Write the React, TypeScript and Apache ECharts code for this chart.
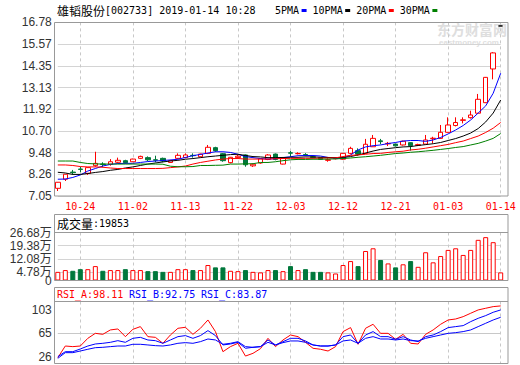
import React, { useEffect, useRef } from 'react';
import * as echarts from 'echarts';

const stockName = '雄韬股份';
const stockHeader = '[002733] 2019-01-14 10:28';
const maNames = ['5PMA', '10PMA', '20PMA', '30PMA'];
const maColors = ['#0000ff', '#000000', '#ff0000', '#008000'];
const volLabel = '成交量';
const volHeaderValue = 19853;
const rsiNames = ['RSI_A', 'RSI_B', 'RSI_C'];
const rsiHeaderValues = [98.11, 92.75, 83.87];

const dates = [
  '10-19', '10-22', '10-23', '10-24', '10-25', '10-26', '10-29', '10-30', '10-31', '11-01',
  '11-02', '11-05', '11-06', '11-07', '11-08', '11-09', '11-12', '11-13', '11-14', '11-15',
  '11-16', '11-19', '11-20', '11-21', '11-22', '11-23', '11-26', '11-27', '11-28', '11-29',
  '11-30', '12-03', '12-04', '12-05', '12-06', '12-07', '12-10', '12-11', '12-12', '12-13',
  '12-14', '12-17', '12-18', '12-19', '12-20', '12-21', '12-24', '12-25', '12-26', '12-27',
  '12-28', '01-02', '01-03', '01-04', '01-07', '01-08', '01-09', '01-10', '01-11', '01-14',
];
const labelDates = ['10-24', '11-02', '11-13', '11-22', '12-03', '12-12', '12-21', '01-03', '01-14'];

const opens = [
  7.48, 7.99, 8.39, 8.56, 8.32, 8.75, 8.84, 8.83, 8.94, 9.03,
  8.97, 9.16, 9.20, 9.08, 9.16, 8.93, 9.16, 9.20, 9.33, 9.25,
  9.44, 9.76, 9.42, 8.92, 9.20, 9.35, 8.74, 8.90, 9.10, 9.40,
  8.84, 9.47, 9.42, 9.37, 9.25, 9.20, 9.05, 9.14, 9.11, 9.44,
  9.59, 9.44, 9.81, 10.14, 9.97, 9.96, 9.91, 10.04, 9.89, 9.96,
  10.26, 10.28, 10.62, 11.00, 11.29, 11.44, 11.69, 12.28, 14.17, 16.58,
];
const closes = [
  7.82, 8.27, 8.36, 8.54, 8.64, 8.88, 8.82, 8.97, 9.05, 8.92,
  9.12, 9.27, 9.08, 9.06, 9.01, 9.04, 9.33, 9.35, 9.31, 9.40,
  9.78, 9.59, 9.03, 9.22, 9.28, 8.80, 8.83, 9.14, 9.35, 9.10,
  9.16, 9.45, 9.43, 9.34, 9.21, 9.11, 9.08, 9.17, 9.44, 9.72,
  9.39, 9.95, 10.28, 10.10, 10.00, 9.86, 10.12, 9.87, 9.93, 10.19,
  10.29, 10.62, 11.03, 11.17, 11.32, 11.59, 12.47, 13.70, 15.07, 16.58,
];
const lows = [
  7.33, 7.89, 8.24, 8.38, 8.23, 8.69, 8.66, 8.75, 8.88, 8.86,
  8.95, 9.12, 9.01, 8.94, 8.94, 8.90, 9.12, 9.16, 9.20, 9.22,
  9.40, 9.53, 8.97, 8.88, 9.15, 8.69, 8.68, 8.86, 9.06, 9.05,
  8.82, 9.24, 9.38, 9.28, 9.18, 9.08, 8.97, 9.10, 9.08, 9.40,
  9.31, 9.40, 9.80, 9.95, 9.85, 9.82, 9.88, 9.59, 9.85, 9.94,
  10.00, 10.25, 10.60, 10.95, 11.12, 11.39, 11.65, 12.26, 13.59, 16.58,
];
const highs = [
  7.83, 8.28, 8.51, 8.69, 8.65, 9.53, 8.94, 9.12, 9.20, 9.08,
  9.14, 9.31, 9.27, 9.31, 9.20, 9.08, 9.44, 9.44, 9.44, 9.42,
  9.91, 9.81, 9.46, 9.24, 9.35, 9.38, 8.87, 9.16, 9.40, 9.43,
  9.18, 9.57, 9.50, 9.45, 9.27, 9.23, 9.16, 9.20, 9.46, 9.81,
  9.72, 10.25, 10.47, 10.25, 10.08, 9.98, 10.15, 10.06, 9.98, 10.47,
  10.37, 11.03, 11.46, 11.46, 11.46, 11.83, 12.77, 13.72, 15.11, 16.58,
];

const ma5 = [
  7.99, 8.00, 8.09, 8.23, 8.45, 8.59, 8.73, 8.82, 8.87, 8.88,
  8.88, 8.93, 8.98, 9.01, 9.04, 9.07, 9.11, 9.21, 9.31, 9.38,
  9.46, 9.53, 9.53, 9.49, 9.39, 9.26, 9.20, 9.15, 9.12, 9.14,
  9.20, 9.25, 9.31, 9.32, 9.32, 9.29, 9.21, 9.16, 9.16, 9.35,
  9.63, 9.80, 9.87, 9.91, 9.99, 10.05, 10.13, 10.16, 10.16, 10.11,
  10.19, 10.33, 10.53, 10.75, 11.00, 11.31, 11.70, 12.10, 12.81, 13.93,
];
const ma10 = [
  8.38, 8.34, 8.26, 8.26, 8.31, 8.37, 8.42, 8.49, 8.54, 8.62,
  8.68, 8.76, 8.84, 8.90, 8.96, 9.01, 9.05, 9.11, 9.15, 9.20,
  9.25, 9.29, 9.33, 9.37, 9.39, 9.32, 9.26, 9.24, 9.20, 9.20,
  9.21, 9.22, 9.22, 9.24, 9.24, 9.22, 9.21, 9.20, 9.21, 9.26,
  9.35, 9.46, 9.57, 9.66, 9.71, 9.76, 9.80, 9.82, 9.88, 9.93,
  9.98, 10.05, 10.16, 10.27, 10.41, 10.58, 10.83, 11.20, 11.70, 12.43,
];
const ma20 = [
  8.79, 8.79, 8.76, 8.70, 8.68, 8.68, 8.66, 8.62, 8.59, 8.59,
  8.59, 8.59, 8.59, 8.59, 8.60, 8.64, 8.68, 8.73, 8.84, 8.93,
  9.00, 9.07, 9.12, 9.15, 9.15, 9.12, 9.12, 9.12, 9.12, 9.14,
  9.15, 9.16, 9.16, 9.16, 9.16, 9.17, 9.18, 9.19, 9.26, 9.33,
  9.35, 9.39, 9.43, 9.44, 9.49, 9.53, 9.56, 9.63, 9.67, 9.73,
  9.80, 9.87, 9.94, 10.04, 10.13, 10.27, 10.41, 10.61, 10.85, 11.17,
];
const ma30 = [
  9.01, 9.01, 9.01, 8.93, 8.87, 8.85, 8.84, 8.84, 8.84, 8.84,
  8.84, 8.84, 8.84, 8.84, 8.83, 8.72, 8.69, 8.69, 8.70, 8.76,
  8.76, 8.77, 8.78, 8.84, 8.84, 8.85, 8.86, 8.93, 8.93, 8.97,
  9.03, 9.08, 9.10, 9.10, 9.11, 9.11, 9.12, 9.13, 9.15, 9.18,
  9.22, 9.25, 9.29, 9.33, 9.38, 9.43, 9.46, 9.50, 9.53, 9.57,
  9.61, 9.66, 9.71, 9.77, 9.82, 9.91, 10.00, 10.13, 10.28, 10.55,
];

// volume in 万 (10k shares)
const volumes = [
  4.8, 5.8, 5.4, 6.3, 6.3, 8.0, 5.4, 5.8, 5.8, 6.3,
  5.8, 5.8, 5.2, 5.2, 4.8, 4.8, 6.3, 6.3, 5.8, 5.8,
  8.6, 7.3, 7.3, 5.4, 5.2, 5.8, 4.8, 4.5, 5.8, 5.8,
  5.2, 8.0, 5.8, 6.3, 4.8, 4.8, 4.5, 3.9, 8.6, 10.8,
  8.0, 16.4, 17.9, 11.4, 9.5, 7.3, 9.0, 10.8, 7.6, 15.7,
  10.1, 13.6, 17.0, 17.9, 14.2, 17.0, 22.6, 24.1, 21.3, 4.5,
];

const rsiA = [
  25.4, 44.3, 43.3, 44.3, 56.8, 64.9, 63.3, 70.4, 72.0, 59.5,
  71.4, 75.8, 59.5, 58.4, 48.7, 62.2, 73.1, 74.7, 63.3, 73.1,
  86.6, 67.7, 35.1, 43.3, 48.7, 28.0, 32.4, 40.0, 56.8, 43.3,
  54.1, 62.2, 59.5, 50.3, 40.6, 39.0, 36.2, 43.3, 67.7, 74.2,
  47.1, 73.1, 79.6, 64.9, 64.9, 55.2, 63.3, 48.7, 47.6, 63.3,
  70.4, 79.6, 86.6, 88.2, 92.0, 97.5, 102.9, 105.6, 108.3, 109.4,
];
const rsiB = [
  27.0, 35.1, 35.1, 39.5, 44.3, 47.6, 48.7, 50.3, 53.0, 50.3,
  56.8, 58.4, 54.1, 53.0, 48.7, 54.1, 59.5, 61.2, 56.8, 61.2,
  69.3, 61.2, 46.0, 47.6, 50.3, 40.6, 42.2, 43.3, 54.1, 46.0,
  51.4, 56.8, 56.8, 52.5, 46.0, 44.3, 44.3, 46.0, 59.5, 62.2,
  48.7, 62.2, 67.7, 59.5, 59.5, 55.2, 59.5, 54.1, 51.4, 59.5,
  62.2, 67.7, 74.2, 75.8, 77.4, 83.9, 89.3, 93.7, 99.1, 102.9,
];
const rsiC = [
  24.3, 33.5, 33.5, 36.2, 39.0, 41.6, 42.2, 43.3, 44.3, 44.3,
  47.1, 47.1, 46.0, 44.9, 44.3, 46.0, 48.7, 49.8, 48.7, 51.4,
  55.7, 54.1, 47.1, 48.7, 51.4, 43.3, 42.2, 43.3, 50.3, 46.0,
  49.8, 52.5, 52.5, 50.3, 46.0, 44.3, 44.3, 46.0, 52.5, 54.1,
  48.7, 56.8, 59.5, 55.7, 55.7, 54.1, 55.7, 53.0, 52.5, 56.8,
  59.5, 62.2, 64.9, 66.0, 67.7, 70.4, 75.8, 81.2, 86.6, 91.0,
];

const priceTicks = [7.05, 8.26, 9.48, 10.70, 11.92, 13.13, 14.35, 15.57, 16.78];
const volTicks = [4.78, 12.08, 19.38, 26.68];
const rsiTicks = [26, 65, 103];

const RED = '#ff0000';
const GREEN = '#00783c';
const BLUE = '#0000ff';
const FRAME = '#999999';
const GRIDC = '#d4d4d4';
const MONO = 'DejaVu Sans Mono';
const SANS = 'Liberation Sans, Noto Sans CJK SC';
const CJK = 'Noto Sans CJK SC';

export default function App() {
  const ref = useRef<HTMLDivElement>(null);

  useEffect(() => {
    const chart = echarts.init(ref.current!, undefined, { renderer: 'svg' });

    const showAt = (_i: number, v: string) => labelDates.indexOf(v) >= 0;

    const candleData = dates.map((_, i) => {
      const v = [opens[i], closes[i], lows[i], highs[i]];
      if (opens[i] === closes[i] && highs[i] === lows[i]) {
        return {
          value: v,
          itemStyle: { color: '#000', color0: '#000', borderColor: '#000', borderColor0: '#000' },
        };
      }
      return v;
    });

    const volData = volumes.map((v, i) => {
      const up = closes[i] >= opens[i];
      return {
        value: v,
        itemStyle: up
          ? { color: '#ffffff', borderColor: RED, borderWidth: 1 }
          : { color: GREEN, borderColor: GREEN, borderWidth: 1 },
      };
    });

    const gridL = 57.8;
    const gridR = 19.3;
    const grids = [
      { left: gridL, right: gridR, top: 22.4, height: 173.6 },
      { left: gridL, right: gridR, top: 232.5, height: 48 },
      { left: gridL, right: gridR, top: 301.5, height: 62 },
    ].map((g) => ({ ...g, containLabel: false, outerBoundsMode: 'none', show: false }));

    const makeX = (gi: number, showLabel: boolean) => ({
      type: 'category',
      gridIndex: gi,
      data: dates,
      boundaryGap: false,
      axisLine: { show: false },
      axisTick: { show: false },
      axisLabel: {
        show: showLabel,
        interval: showAt,
        color: RED,
        fontFamily: MONO,
        fontSize: 10,
        margin: 5,
      },
      splitLine: {
        show: true,
        interval: showAt,
        lineStyle: { color: '#c8c8c8', type: [3, 3], width: 1 },
      },
    });

    const labelBase = {
      color: '#333',
      fontFamily: SANS,
      fontSize: 12,
      margin: 6,
      showMinLabel: true,
      showMaxLabel: true,
      hideOverlap: false,
    };

    // the volume pane uses three left axes sharing one scale, so that close labels
    // ("4.78万" and "0") are not hidden by the overlap check
    const volAxis = (labels: number[], extra: any = {}) => ({
      type: 'value',
      gridIndex: 1,
      position: 'left',
      offset: 0,
      min: 0,
      max: 26.68,
      axisLine: { show: false },
      axisTick: { show: false, customValues: labels },
      axisLabel: {
        ...labelBase,
        customValues: labels,
        formatter: (v: number) => (v === 0 ? '0' : v.toFixed(2) + '万'),
        ...extra,
      },
      splitLine: { show: false },
    });

    const legendGraphics: any[] = [];
    let lx = 275;
    maNames.forEach((n, k) => {
      legendGraphics.push({
        type: 'text',
        x: lx,
        y: 10,
        style: { text: n, fill: '#000', fontFamily: MONO, fontSize: 10, verticalAlign: 'middle' },
        z: 100,
      });
      const sx = lx + n.length * 6.02 + 2.5;
      legendGraphics.push({
        type: 'rect',
        shape: { x: sx, y: 9, width: 5, height: 3 },
        style: { fill: maColors[k] },
        z: 100,
      });
      lx = sx + 11;
    });

    const rsiGraphics = rsiNames.map((n, k) => ({
      type: 'text',
      x: 57 + k * 72,
      y: 294,
      style: {
        text: `${n}:${rsiHeaderValues[k].toFixed(2)}`,
        fill: k === 0 ? RED : BLUE,
        fontFamily: MONO,
        fontSize: 10,
        verticalAlign: 'middle',
      },
      z: 100,
    }));

    const frame = (y: number, h: number) => ({
      type: 'rect',
      shape: { x: 54.5, y, width: 453.5, height: h },
      style: { fill: 'none', stroke: FRAME, lineWidth: 1 },
      z: 100,
    });
    const hline = (y: number) => ({
      type: 'line',
      shape: { x1: 54.5, y1: y, x2: 508, y2: y },
      style: { stroke: FRAME, lineWidth: 1 },
      z: 100,
    });

    chart.setOption({
      animation: false,
      grid: grids,
      xAxis: [makeX(0, true), makeX(1, false), makeX(2, false)],
      yAxis: [
        {
          type: 'value',
          gridIndex: 0,
          min: 7.05,
          max: 16.78,
          axisLine: { show: false },
          axisTick: { show: false, customValues: priceTicks },
          axisLabel: { ...labelBase, customValues: priceTicks, formatter: (v: number) => v.toFixed(2) },
          splitLine: { show: true, lineStyle: { color: GRIDC, width: 1 } },
        },
        {
          ...volAxis(volTicks.slice(1)),
          axisTick: { show: false, customValues: volTicks },
          splitLine: { show: true, lineStyle: { color: GRIDC, width: 1 } },
        },
        {
          type: 'value',
          gridIndex: 2,
          min: 15.9,
          max: 116.6,
          axisLine: { show: false },
          axisTick: { show: false, customValues: rsiTicks },
          axisLabel: { ...labelBase, customValues: rsiTicks, formatter: (v: number) => String(v) },
          splitLine: {
            show: true,
            lineStyle: { color: ['rgba(0,0,0,0)', '#c8c8c8', 'rgba(0,0,0,0)'], width: 1 },
          },
        },
        volAxis([0], { padding: [2, 0, 0, 0] }),
        volAxis([volTicks[0]], { padding: [0, 0, 7, 0] }),
      ],
      series: [
        {
          type: 'candlestick',
          xAxisIndex: 0,
          yAxisIndex: 0,
          data: candleData,
          barWidth: 5,
          clip: false,
          z: 2,
          itemStyle: {
            color: '#ffffff',
            color0: GREEN,
            borderColor: RED,
            borderColor0: GREEN,
            borderWidth: 1,
          },
        },
        ...[ma5, ma10, ma20, ma30].map((d, k) => ({
          type: 'line',
          name: maNames[k],
          xAxisIndex: 0,
          yAxisIndex: 0,
          data: d,
          symbol: 'none',
          showSymbol: false,
          clip: false,
          z: 3,
          lineStyle: { color: maColors[k], width: 1 },
        })),
        {
          type: 'bar',
          xAxisIndex: 1,
          yAxisIndex: 1,
          data: volData,
          barWidth: 5,
          clip: false,
        },
        ...[rsiA, rsiB, rsiC].map((d, k) => ({
          type: 'line',
          name: rsiNames[k],
          xAxisIndex: 2,
          yAxisIndex: 2,
          data: d,
          symbol: 'none',
          showSymbol: false,
          clip: false,
          lineStyle: { color: k === 0 ? RED : BLUE, width: 1 },
        })),
      ],
      graphic: [
        {
          type: 'text',
          x: 437,
          y: 29,
          style: {
            text: '东方财富网',
            fill: '#dedede',
            fontFamily: CJK,
            fontSize: 14,
            fontWeight: 'bold',
            verticalAlign: 'middle',
          },
          z: 0,
        },
        {
          type: 'text',
          x: 439,
          y: 42,
          style: {
            text: 'eastmoney.com',
            fill: '#dedede',
            fontFamily: SANS,
            fontSize: 8,
            fontWeight: 'bold',
            verticalAlign: 'middle',
          },
          z: 0,
        },
        {
          type: 'text',
          x: 57,
          y: 10,
          style: {
            text: `{cn|${stockName}}{en|${stockHeader}}`,
            verticalAlign: 'middle',
            rich: {
              cn: { fontFamily: CJK, fontSize: 12, fill: '#000' },
              en: { fontFamily: MONO, fontSize: 10, fill: '#000' },
            },
          },
          z: 100,
        },
        ...legendGraphics,
        {
          type: 'text',
          x: 57,
          y: 223,
          style: {
            text: `{cn|${volLabel}}{en|:${volHeaderValue}}`,
            verticalAlign: 'middle',
            rich: {
              cn: { fontFamily: CJK, fontSize: 12, fill: '#000' },
              en: { fontFamily: MONO, fontSize: 10, fill: '#000' },
            },
          },
          z: 100,
        },
        ...rsiGraphics,
        frame(22.5, 173.5),
        frame(214.5, 66),
        hline(232.5),
        frame(287.5, 76),
        hline(301.5),
      ],
    });

    return () => chart.dispose();
  }, []);

  return (
    <div
      ref={ref}
      style={{ position: 'fixed', left: 0, top: 0, width: 520, height: 365, background: '#fff' }}
    />
  );
}
